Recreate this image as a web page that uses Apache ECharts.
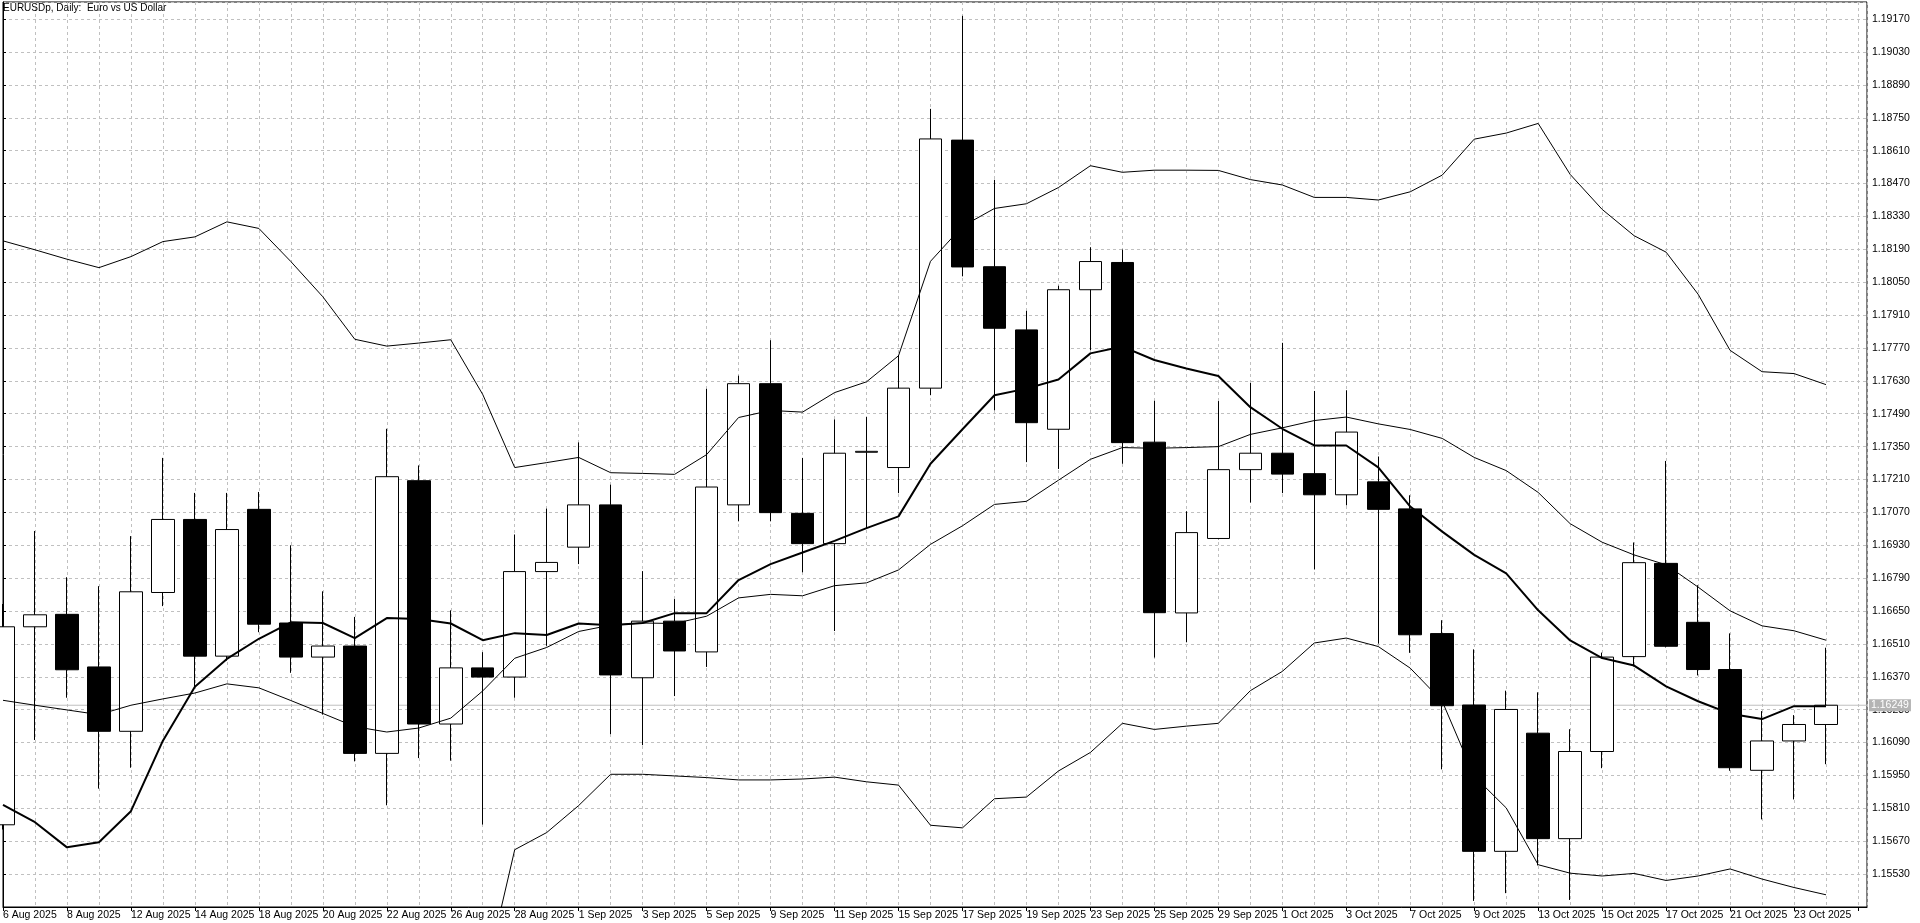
<!DOCTYPE html>
<html>
<head>
<meta charset="utf-8">
<script src="https://cdn.jsdelivr.net/npm/echarts@6/dist/echarts.min.js"></script>
<style>
html,body{margin:0;padding:0;background:#ffffff;}
#chart{width:1920px;height:923px;}
</style>
</head>
<body>
<div id="chart"></div>
<script>
// ---- data ----
const titleText = 'EURUSDp, Daily:  Euro vs US Dollar';

const dates = [
  '6 Aug 2025','7 Aug 2025','8 Aug 2025','11 Aug 2025','12 Aug 2025','13 Aug 2025','14 Aug 2025','15 Aug 2025',
  '18 Aug 2025','19 Aug 2025','20 Aug 2025','21 Aug 2025','22 Aug 2025','25 Aug 2025','26 Aug 2025','27 Aug 2025',
  '28 Aug 2025','29 Aug 2025','1 Sep 2025','2 Sep 2025','3 Sep 2025','4 Sep 2025','5 Sep 2025','8 Sep 2025',
  '9 Sep 2025','10 Sep 2025','11 Sep 2025','12 Sep 2025','15 Sep 2025','16 Sep 2025','17 Sep 2025','18 Sep 2025',
  '19 Sep 2025','22 Sep 2025','23 Sep 2025','24 Sep 2025','25 Sep 2025','26 Sep 2025','29 Sep 2025','30 Sep 2025',
  '1 Oct 2025','2 Oct 2025','3 Oct 2025','6 Oct 2025','7 Oct 2025','8 Oct 2025','9 Oct 2025','10 Oct 2025',
  '13 Oct 2025','14 Oct 2025','15 Oct 2025','16 Oct 2025','17 Oct 2025','20 Oct 2025','21 Oct 2025','22 Oct 2025',
  '23 Oct 2025','24 Oct 2025'
];

const opens = [
  1.15740,1.16583,1.16636,1.16412,1.16138,1.16729,1.17040,1.16458,
  1.17083,1.16599,1.16454,1.16501,1.16044,1.17205,1.16169,1.16408,
  1.16369,1.16818,1.16922,1.17102,1.16366,1.16607,1.16476,1.17102,
  1.17618,1.17066,1.16937,1.17326,1.17261,1.17599,1.18655,1.18116,
  1.17847,1.17424,1.18018,1.18134,1.17369,1.16642,1.16959,1.17252,
  1.17322,1.17235,1.17145,1.17200,1.17085,1.16554,1.16250,1.15627,
  1.16130,1.15681,1.16052,1.16456,1.16853,1.16602,1.16401,1.15972,
  1.16097,1.16167
];
const highs = [
  1.16680,1.16991,1.16794,1.16756,1.16969,1.17302,1.17153,1.17153,
  1.17157,1.16930,1.16734,1.16625,1.17426,1.17270,1.16653,1.16475,
  1.16976,1.17086,1.17368,1.17188,1.16820,1.16701,1.17596,1.17652,
  1.17803,1.17302,1.17466,1.17476,1.17740,1.18788,1.19184,1.18486,
  1.17928,1.18035,1.18199,1.18189,1.17545,1.17075,1.17544,1.17621,
  1.17792,1.17587,1.17590,1.17308,1.17143,1.16611,1.16487,1.16311,
  1.16304,1.16147,1.16473,1.16942,1.17289,1.16760,1.16555,1.16224,
  1.16207,1.16494
];
const lows = [
  1.15720,1.16101,1.16281,1.15894,1.15983,1.16671,1.16328,1.16439,
  1.16560,1.16387,1.16209,1.16010,1.15823,1.16024,1.16013,1.15741,
  1.16281,1.16502,1.16850,1.16126,1.16079,1.16288,1.16412,1.17032,
  1.17032,1.16815,1.16565,1.17003,1.17152,1.17569,1.18075,1.17505,
  1.17284,1.17255,1.17761,1.17277,1.16452,1.16517,1.16955,1.17112,
  1.17152,1.16827,1.17100,1.16511,1.16472,1.15976,1.15416,1.15449,
  1.15567,1.15420,1.15981,1.16414,1.16495,1.16376,1.15970,1.15763,
  1.15848,1.15998
];
const closes = [
  1.16583,1.16634,1.16400,1.16138,1.16732,1.17040,1.16458,1.16997,
  1.16594,1.16454,1.16501,1.16044,1.17222,1.16169,1.16408,1.16369,
  1.16818,1.16857,1.17102,1.16378,1.16607,1.16480,1.17178,1.17618,
  1.17069,1.16937,1.17322,1.17330,1.17599,1.18660,1.18115,1.17854,
  1.17452,1.18018,1.18138,1.17367,1.16643,1.16984,1.17252,1.17322,
  1.17233,1.17145,1.17412,1.17083,1.16549,1.16247,1.15627,1.16231,
  1.15681,1.16052,1.16454,1.16856,1.16500,1.16401,1.15983,1.16097,
  1.16167,1.16249
];

// thick moving average
const maLine = [
  1.15825,1.15751,1.15644,1.15666,1.15798,1.16098,1.16328,1.16446,
  1.16532,1.16602,1.16599,1.16535,1.16620,1.16616,1.16597,1.16526,
  1.16556,1.16548,1.16597,1.16590,1.16599,1.16641,1.16641,1.16782,
  1.16850,1.16899,1.16949,1.17003,1.17053,1.17277,1.17424,1.17569,
  1.17597,1.17636,1.17747,1.17776,1.17719,1.17683,1.17651,1.17518,
  1.17426,1.17355,1.17355,1.17262,1.17095,1.16988,1.16889,1.16810,
  1.16653,1.16525,1.16450,1.16418,1.16329,1.16266,1.16213,1.16190,
  1.16245,1.16245
];
// Bollinger bands (thin lines)
const bbMid = [
  1.16270,1.16249,1.16229,1.16209,1.16249,1.16276,1.16301,1.16340,
  1.16323,1.16269,1.16214,1.16158,1.16135,1.16152,1.16194,1.16310,
  1.16449,1.16495,1.16563,1.16590,1.16599,1.16597,1.16628,1.16706,
  1.16721,1.16715,1.16758,1.16770,1.16825,1.16934,1.17013,1.17104,
  1.17117,1.17207,1.17296,1.17346,1.17343,1.17346,1.17350,1.17402,
  1.17430,1.17461,1.17476,1.17447,1.17423,1.17385,1.17304,1.17248,
  1.17155,1.17022,1.16943,1.16889,1.16847,1.16752,1.16651,1.16587,
  1.16566,1.16526
];
const bbUpper = [
  1.18226,1.18188,1.18148,1.18112,1.18159,1.18223,1.18243,1.18307,
  1.18279,1.18138,1.17988,1.17807,1.17778,1.17791,1.17805,1.17572,
  1.17261,1.17282,1.17304,1.17239,1.17236,1.17232,1.17316,1.17474,
  1.17504,1.17497,1.17580,1.17626,1.17737,1.18139,1.18288,1.18364,
  1.18384,1.18453,1.18546,1.18518,1.18527,1.18527,1.18526,1.18487,
  1.18464,1.18411,1.18411,1.18400,1.18435,1.18506,1.18659,1.18685,
  1.18726,1.18509,1.18360,1.18248,1.18178,1.17999,1.17760,1.17669,
  1.17661,1.17614
];
const bbLower = [
  1.14314,1.14310,1.14310,1.14306,1.14339,1.14329,1.14359,1.14373,
  1.14367,1.14400,1.14440,1.14509,1.14492,1.14513,1.14583,1.15048,
  1.15634,1.15707,1.15822,1.15955,1.15955,1.15948,1.15941,1.15931,
  1.15931,1.15935,1.15943,1.15923,1.15909,1.15738,1.15727,1.15851,
  1.15858,1.15969,1.16048,1.16172,1.16146,1.16160,1.16172,1.16311,
  1.16393,1.16514,1.16535,1.16499,1.16407,1.16266,1.15947,1.15812,
  1.15570,1.15534,1.15522,1.15533,1.15503,1.15522,1.15552,1.15509,
  1.15473,1.15442
];

// price axis: range and tick step
const yMin = 1.15390;
const yMax = 1.19243;
const yStep = 0.0014;
// bar axis
const xMin = 0;
const xMax = 58.28125;

// ---- chart ----
const FONT = "'Liberation Sans', Arial, sans-serif";
const lastIndex = closes.length - 1;
const lastClose = closes[lastIndex];
const gridColor = '#c0c0c0';

const candleData = dates.map((d, i) => [i, opens[i], closes[i], lows[i], highs[i]]);
const toXY = arr => arr.map((v, i) => [i, v]);

const chart = echarts.init(document.getElementById('chart'), null, {renderer: 'canvas'});

const lineSeries = (name, arr, width) => ({
  name, type: 'line', data: toXY(arr), xAxisIndex: 0, yAxisIndex: 0,
  symbol: 'none', showSymbol: false, clip: true, z: 3, silent: true,
  lineStyle: {color: '#000000', width: width},
  emphasis: {disabled: true}, animation: false
});

chart.setOption({
  animation: false,
  backgroundColor: '#ffffff',
  title: {
    text: titleText, left: 3, top: 3, padding: 0,
    textStyle: {fontFamily: FONT, fontSize: 10, fontWeight: 'normal', color: '#000000'}
  },
  grid: {
    left: 2, right: 53, top: 2, bottom: 16,
    show: true, borderColor: '#000000', borderWidth: 1, backgroundColor: '#ffffff',
    containLabel: false
  },
  xAxis: [
    {
      type: 'value', min: xMin, max: xMax, interval: 1, position: 'bottom',
      axisLine: {show: true, lineStyle: {color: '#000000', width: 1}},
      axisTick: {show: false},
      axisLabel: {show: false},
      splitLine: {show: true, lineStyle: {color: gridColor, width: 1, type: [3, 3]}}
    },
    {
      type: 'value', min: xMin, max: xMax, interval: 2, position: 'bottom',
      axisLine: {show: false},
      axisTick: {show: true, length: 4, lineStyle: {color: '#000000'}},
      axisLabel: {
        show: true, align: 'left', margin: 3, showMaxLabel: false,
        fontFamily: FONT, fontSize: 10.5, color: '#000000',
        formatter: v => (dates[Math.round(v)] !== undefined && Math.abs(v - Math.round(v)) < 1e-6) ? dates[Math.round(v)] : ''
      },
      splitLine: {show: false}
    }
  ],
  yAxis: {
    type: 'value', position: 'right', min: yMin, max: yMax, interval: yStep,
    axisLine: {show: true, lineStyle: {color: '#000000', width: 1}},
    axisTick: {show: true, length: 3, lineStyle: {color: '#000000'}},
    axisLabel: {
      show: true, margin: 5, showMinLabel: false, showMaxLabel: false,
      fontFamily: FONT, fontSize: 10.5, color: '#000000',
      formatter: v => v.toFixed(5)
    },
    splitLine: {show: true, lineStyle: {color: gridColor, width: 1, type: [3, 3]}}
  },
  series: [
    {
      // last price line across the whole plot (behind the candles)
      name: 'Last price', type: 'line', xAxisIndex: 0, yAxisIndex: 0,
      data: [[xMin, lastClose], [xMax, lastClose]],
      symbol: 'none', showSymbol: false, z: 1, silent: true, clip: false,
      lineStyle: {color: '#c0c0c0', width: 1, type: 'solid'},
      emphasis: {disabled: true},
      endLabel: {
        show: true, distance: 2,
        formatter: () => lastClose.toFixed(5),
        color: '#ffffff', backgroundColor: '#b4b4b4', padding: [1, 2, 0, 2],
        fontFamily: FONT, fontSize: 10.5
      }
    },
    {
      name: 'EURUSDp', type: 'candlestick', xAxisIndex: 0, yAxisIndex: 0,
      data: candleData, encode: {x: 0, y: [1, 2, 3, 4]},
      barWidth: 23, z: 2, silent: true, clip: true,
      itemStyle: {color: '#ffffff', color0: '#000000', borderColor: '#000000', borderColor0: '#000000', borderWidth: 1},
      emphasis: {disabled: true}
    },
    lineSeries('BB Upper', bbUpper, 1),
    lineSeries('BB Middle', bbMid, 1),
    lineSeries('BB Lower', bbLower, 1),
    lineSeries('MA', maLine, 2)
  ]
});
</script>
</body>
</html>
